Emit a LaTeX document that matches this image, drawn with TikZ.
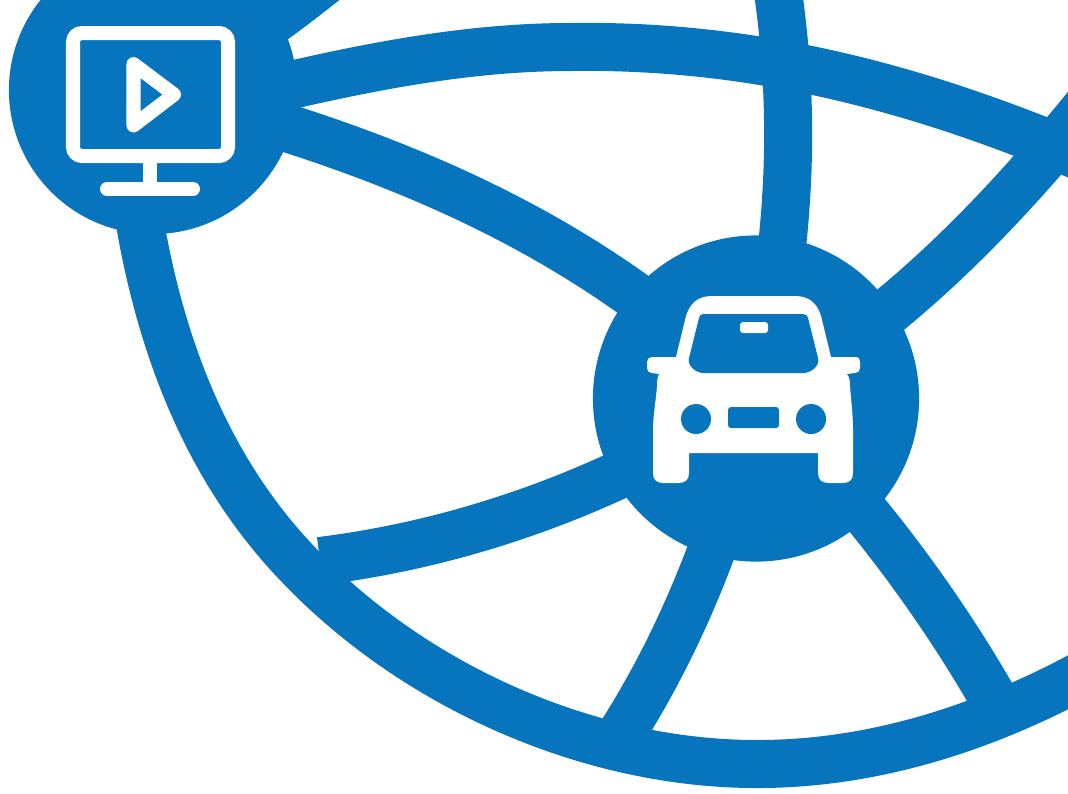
\documentclass[tikz,border=0pt]{standalone}
\usepackage{amsmath,amssymb}
\usepackage{tikz}
\definecolor{wheelblue}{HTML}{0675BE}
\tikzset{
	hub/.style={circle, fill=wheelblue, inner sep=0pt},
	spoke/.style={draw=wheelblue, line width=0.48cm},
	iconline/.style={draw=white, line width=0.14cm}
}
\begin{document}
\begin{tikzpicture}[x=0.01cm, y=-0.01cm]
	\path[use as bounding box, clip] (0,0) rectangle (1068,793);
	\node[hub, minimum size=2.88cm] (media) at (153,90) {};
	\node[hub, minimum size=3.26cm] (car) at (756,398.5) {};
	\coordinate (ringstart) at (126,100);
	\coordinate (ringleft) at (295,561);
	\coordinate (ringbottom) at (757,764);
	\coordinate (ringend) at (1150,635);
	\coordinate (arcstart) at (200,107);
	\coordinate (arctop) at (570,47);
	\coordinate (topend) at (1100,165);
	\coordinate (upend) at (777,-15);
	\coordinate (rightend) at (1097,94);
	\coordinate (leftend) at (320,561);
	\coordinate (lowend) at (614,745);
	\coordinate (lowrightend) at (1003,716);
	\coordinate (mediaend) at (340,-31);
	% the wheel
	\draw[spoke] (ringstart) .. controls (136,265) and (178,437) .. (ringleft) .. controls (411,685) and (587,764) .. (ringbottom) .. controls (897,764) and (1030,712) .. (ringend);
	\draw[spoke] (arcstart) .. controls (321,77) and (445,47) .. (arctop) .. controls (770,44) and (940,96) .. (topend);
	\draw[spoke] (media.center) .. controls (260,32) .. (mediaend);
	\draw[spoke] (media.center) .. controls (390,150) and (592,234) .. (car.center);
	\draw[spoke] (car.center) .. controls (790,250) and (797,120) .. (upend);
	\draw[spoke] (car.center) .. controls (865,345) and (978,243) .. (rightend);
	\draw[spoke] (car.center) .. controls (640,475) and (490,540) .. (leftend);
	\draw[spoke] (car.center) .. controls (735,495) and (693,625) .. (lowend);
	\draw[spoke] (car.center) .. controls (850,480) and (945,610) .. (lowrightend);
	% monitor
	\draw[iconline, rounded corners=0.09cm] (73,33) rectangle (228,156);
	\draw[iconline] (150,150) -- (150,189);
	\draw[iconline, line cap=round] (107,189) -- (193,189);
	\draw[iconline, line join=round] (133.5,64) -- (133.5,125.5) -- (174,94.5) -- cycle;
	% car
	\fill[white] (712,296) -- (795,296) .. controls (809,296) and (817,303) .. (821,316) -- (831,357) -- (855,357)
		.. controls (859,357) and (860,359) .. (860,362) -- (860,368) .. controls (860,371) and (858,373) .. (855,373) -- (847,374)
		.. controls (850,378) and (850,383) .. (850,386) .. controls (851,400) and (853,415) .. (853,430) -- (853,473) .. controls (853,480) and (849,483) .. (843,483) -- (829,483)
		.. controls (822,483) and (818,480) .. (818,473) -- (818,453) -- (689,453) -- (689,473)
		.. controls (689,480) and (685,483) .. (678,483) -- (663,483) .. controls (657,483) and (653,480) .. (653,473) -- (653,430) .. controls (653,415) and (656,400) .. (657,386)
		.. controls (657,383) and (657,378) .. (659,374) -- (652,373) .. controls (649,373) and (647,371) .. (647,368) -- (647,362)
		.. controls (647,359) and (649,357) .. (652,357) -- (676,357) -- (686,316) .. controls (690,303) and (698,296) .. (712,296) -- cycle;
	\fill[wheelblue] (703,314) -- (803,314) .. controls (806,314) and (808,316) .. (808,318) -- (818,358)
		.. controls (820,365) and (812,373) .. (803,373) -- (704,373) .. controls (695,373) and (687,365) .. (689,358) -- (699,318)
		.. controls (699,316) and (701,314) .. (703,314) -- cycle;
	\fill[white, rounded corners=0.03cm] (740,322) rectangle (768,333);
	\fill[wheelblue, rounded corners=0.03cm] (728,407) rectangle (779,428);
	\foreach \x in {696,811} {\fill[wheelblue] (\x,419) circle (15);}
\end{tikzpicture}
\end{document}
